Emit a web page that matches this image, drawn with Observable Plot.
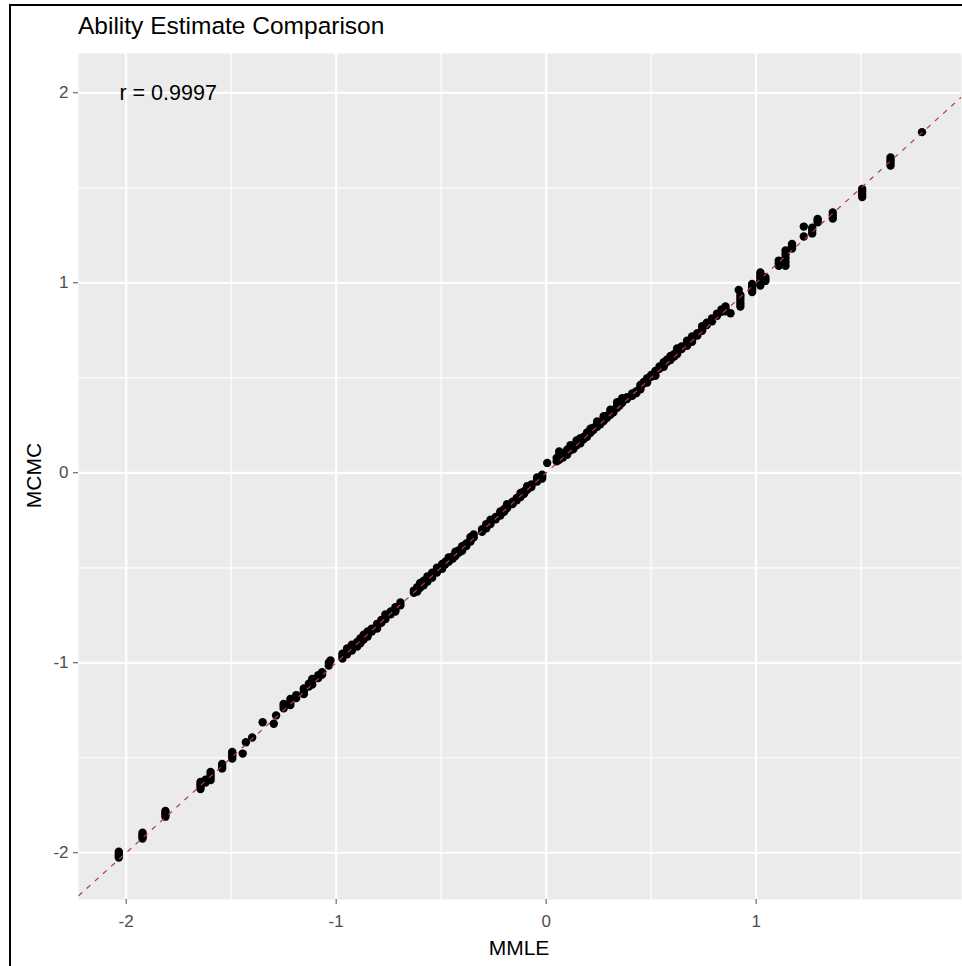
<!DOCTYPE html>
<html>
<head>
<meta charset="utf-8">
<script src="https://cdn.jsdelivr.net/npm/d3@7"></script>
<script src="https://cdn.jsdelivr.net/npm/@observablehq/plot@0.6"></script>
<style>
  body { margin: 0; background: #fff; }
  #wrap { position: relative; width: 962px; height: 966px; overflow: hidden;
          font-family: "Liberation Sans", Arial, sans-serif; background: #fff; }
  #chart { position: absolute; left: 0; top: 0; }
  #frame { position: absolute; left: 9px; top: 4px; width: 960px; height: 960px;
           border-left: 2px solid #000; border-top: 2px solid #000;
           border-bottom: 1px solid #cfcfcf; pointer-events: none; }
  #title { position: absolute; left: 78px; top: 14px; font-size: 24.5px; line-height: 24px;
           color: #000; white-space: nowrap; }
  #xlab { position: absolute; left: 419px; width: 200px; top: 937px; text-align: center;
          font-size: 21px; line-height: 21px; color: #000; }
  #ylab { position: absolute; left: -67px; width: 200px; top: 465px; height: 21px; text-align: center;
          font-size: 21px; line-height: 21px; color: #000; transform: rotate(-90deg); }
</style>
</head>
<body>
<div id="wrap">
  <div id="chart"></div>
  <div id="title">Ability Estimate Comparison</div>
  <div id="xlab">MMLE</div>
  <div id="ylab">MCMC</div>
  <div id="frame"></div>
</div>
<script>
// MMLE value of each group of examinees, and the MCMC estimates observed at that MMLE value
const mmleGroups = [
  -2.035, -1.922, -1.813, -1.646, -1.622, -1.598, -1.543, -1.495, -1.445, -1.43,
  -1.40, -1.35, -1.297, -1.286, -1.25, -1.218, -1.19, -1.154, -1.13, -1.114,
  -1.085, -1.067, -1.035, -1.027, -0.97, -0.948, -0.925, -0.9, -0.885, -0.869,
  -0.85, -0.83, -0.805, -0.785, -0.765, -0.74, -0.718, -0.694, -0.63, -0.614,
  -0.6, -0.583, -0.565, -0.543, -0.52, -0.495, -0.48, -0.464, -0.445, -0.432,
  -0.415, -0.4, -0.38, -0.36, -0.345, -0.305, -0.285, -0.265, -0.24, -0.218,
  -0.2, -0.186, -0.16, -0.14, -0.122, -0.105, -0.09, -0.07, -0.043, -0.019,
  0.005, 0.05, 0.062, 0.08, 0.1, 0.116, 0.13, 0.145, 0.163, 0.18,
  0.195, 0.211, 0.225, 0.243, 0.258, 0.274, 0.29, 0.306, 0.32, 0.338,
  0.35, 0.362, 0.385, 0.41, 0.43, 0.449, 0.465, 0.481, 0.5, 0.52,
  0.54, 0.56, 0.575, 0.592, 0.61, 0.624, 0.645, 0.671, 0.695, 0.72,
  0.743, 0.765, 0.79, 0.814, 0.835, 0.854, 0.878, 0.925, 0.917, 0.981,
  1.02, 1.044, 1.108, 1.14, 1.171, 1.227, 1.267, 1.293, 1.365, 1.505,
  1.64, 1.79
];
const mcmcGroups = [
  [-1.995, -2.005, -2.015, -2.025], [-1.895, -1.905, -1.915, -1.925], [-1.78, -1.79, -1.80, -1.81],
  [-1.627, -1.64, -1.652, -1.664], [-1.615, -1.63], [-1.575, -1.589, -1.603, -1.617],
  [-1.533, -1.545, -1.556], [-1.47, -1.482, -1.493, -1.504], [-1.478], [-1.418],
  [-1.393], [-1.313], [-1.321], [-1.277], [-1.217, -1.228, -1.24], [-1.19, -1.205, -1.222],
  [-1.17, -1.185], [-1.135, -1.15, -1.165], [-1.11, -1.125], [-1.085, -1.1, -1.115],
  [-1.065, -1.08], [-1.05, -1.062], [-1.0, -1.015], [-0.988], [-0.965, -0.952, -0.978],
  [-0.94, -0.925, -0.955], [-0.918, -0.905, -0.935], [-0.89, -0.902, -0.915], [-0.872, -0.885, -0.898], [-0.852, -0.865, -0.878],
  [-0.835, -0.848, -0.862], [-0.82, -0.835], [-0.795, -0.808, -0.82], [-0.775, -0.79], [-0.755, -0.745, -0.77], [-0.73, -0.745],
  [-0.707, -0.72, -0.73], [-0.683, -0.698], [-0.632, -0.62], [-0.615, -0.602, -0.625],
  [-0.59, -0.605, -0.58], [-0.58, -0.568, -0.592], [-0.558, -0.572, -0.545], [-0.538, -0.526, -0.552], [-0.512, -0.525, -0.5],
  [-0.492, -0.48, -0.505], [-0.468, -0.482], [-0.455, -0.468, -0.445], [-0.44, -0.452], [-0.426, -0.415, -0.438],
  [-0.408, -0.42], [-0.398, -0.386, -0.41], [-0.372, -0.385], [-0.35, -0.362, -0.338], [-0.325, -0.34], [-0.297, -0.31],
  [-0.28, -0.27, -0.292], [-0.258, -0.247, -0.27], [-0.232, -0.245], [-0.203, -0.215, -0.225],
  [-0.19, -0.205], [-0.175, -0.186, -0.165], [-0.152, -0.165], [-0.132, -0.145], [-0.106, -0.118, -0.128], [-0.097, -0.11],
  [-0.08, -0.09, -0.07], [-0.062, -0.075], [-0.035, -0.046, -0.025], [-0.01, -0.02, -0.03],
  [0.052], [0.078, 0.06], [0.112, 0.068, 0.09], [0.092, 0.102, 0.08], [0.108, 0.122, 0.095], [0.118, 0.145, 0.13],
  [0.138, 0.125], [0.158, 0.17, 0.145], [0.182, 0.168, 0.155], [0.19, 0.178],
  [0.2, 0.212, 0.19], [0.22, 0.21, 0.232], [0.238, 0.225], [0.27, 0.255, 0.242], [0.268, 0.256], [0.298, 0.284, 0.272],
  [0.3, 0.29], [0.332, 0.318, 0.305], [0.33, 0.318], [0.372, 0.356, 0.342],
  [0.366, 0.354], [0.392, 0.38, 0.368], [0.398, 0.388], [0.405, 0.418, 0.41], [0.43, 0.42], [0.45, 0.462, 0.44],
  [0.47, 0.478], [0.486, 0.498, 0.475], [0.505, 0.515], [0.52, 0.536, 0.51],
  [0.548, 0.56], [0.57, 0.558, 0.582], [0.583, 0.595], [0.604, 0.594, 0.615], [0.625, 0.612], [0.655, 0.638, 0.625],
  [0.652, 0.665], [0.684, 0.668, 0.695], [0.718, 0.703, 0.69], [0.735, 0.722],
  [0.76, 0.748, 0.772], [0.778, 0.79], [0.813, 0.798, 0.805], [0.838, 0.826], [0.848, 0.86], [0.875, 0.862, 0.85],
  [0.84], [0.875, 0.89, 0.905, 0.92, 0.935], [0.962], [0.952, 0.966, 0.98, 0.994],
  [0.986, 1.0, 1.014, 1.028, 1.042, 1.054], [1.01, 1.02, 1.03], [1.09, 1.103, 1.117],
  [1.09, 1.11, 1.13, 1.15, 1.17], [1.18, 1.192, 1.204], [1.244, 1.296],
  [1.26, 1.275, 1.29], [1.318, 1.327, 1.336], [1.338, 1.354, 1.37],
  [1.452, 1.466, 1.48, 1.494], [1.617, 1.631, 1.645, 1.66], [1.793]
];

const xTicks = [-2, -1, 0, 1];
const yTicks = [-2, -1, 0, 1, 2];
const xMinor = [-1.5, -0.5, 0.5, 1.5];
const yMinor = [-1.5, -0.5, 0.5, 1.5];
const xDomain = [-2.227, 1.978];
const yDomain = [-2.246, 2.207];
const annotation = {x: -1.8, y: 2, label: "r = 0.9997"};

const points = mmleGroups.flatMap((x, i) => mcmcGroups[i].map(y => ({mmle: x, mcmc: y})));
const fmt = d => String(d);

const chart = Plot.plot({
  width: 962,
  height: 966,
  marginLeft: 78,
  marginRight: 1,
  marginTop: 53,
  marginBottom: 67,
  x: {domain: xDomain},
  y: {domain: yDomain},
  style: {background: "transparent", fontFamily: "'Liberation Sans', Arial, sans-serif", overflow: "visible"},
  marks: [
    Plot.frame({fill: "#EBEBEB", stroke: null}),
    Plot.gridX(xMinor, {stroke: "#fff", strokeOpacity: 1, strokeWidth: 1.2}),
    Plot.gridY(yMinor, {stroke: "#fff", strokeOpacity: 1, strokeWidth: 1.2}),
    Plot.gridX(xTicks, {stroke: "#fff", strokeOpacity: 1, strokeWidth: 2.2}),
    Plot.gridY(yTicks, {stroke: "#fff", strokeOpacity: 1, strokeWidth: 2.2}),
    Plot.dot(points, {x: "mmle", y: "mcmc", r: 4.2, fill: "#000", stroke: null}),
    Plot.link({length: 1}, {x1: xDomain[0], y1: xDomain[0], x2: xDomain[1], y2: xDomain[1],
      stroke: "#b83a3a", strokeWidth: 1.2, strokeDasharray: "5,6", clip: true}),
    Plot.text([annotation], {x: "x", y: "y", text: "label", fontSize: 21.5, fill: "#000"}),
    Plot.axisX(xTicks, {tickSize: 5, tickPadding: 10, fontSize: 17, color: "#4d4d4d", label: null, tickFormat: fmt}),
    Plot.axisY(yTicks, {tickSize: 5, tickPadding: 5, fontSize: 17, color: "#4d4d4d", label: null, tickFormat: fmt})
  ]
});
document.getElementById("chart").appendChild(chart);
</script>
</body>
</html>
